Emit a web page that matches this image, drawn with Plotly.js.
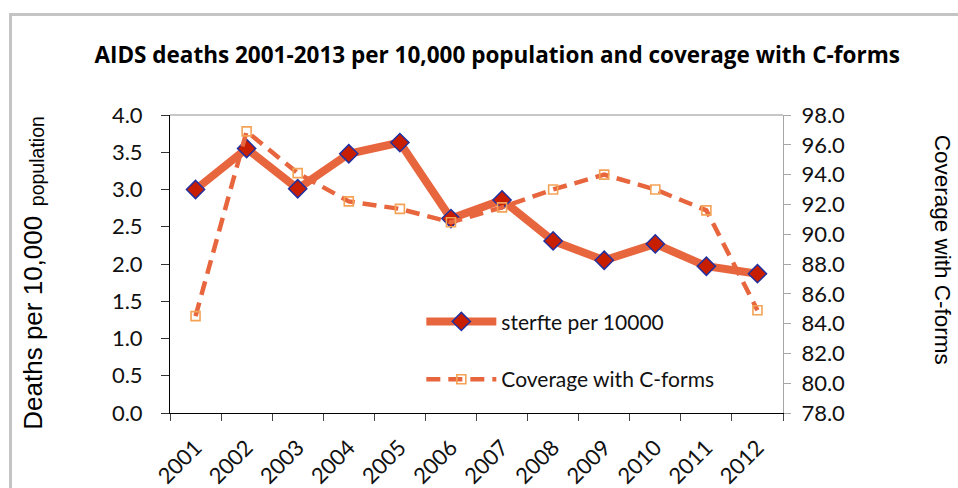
<!DOCTYPE html>
<html>
<head>
<meta charset="utf-8">
<script src="https://cdn.plot.ly/plotly-3.0.1.min.js"></script>
<style>
  html, body { margin: 0; padding: 0; background: #fff; overflow: hidden; }
  #frame {
    position: absolute; left: 9px; top: 13px; width: 1200px; height: 800px;
    border-left: 3px solid #c4c4c4; border-top: 3px solid #c4c4c4;
  }
  #chart { position: absolute; left: 0; top: 0; width: 958px; height: 488px; }
</style>
</head>
<body>
<div id="frame"></div>
<div id="chart"></div>
<script>
// Years on the category axis
const years = ['2001', '2002', '2003', '2004', '2005', '2006',
               '2007', '2008', '2009', '2010', '2011', '2012'];

// AIDS deaths per 10,000 population (left axis)
const deathsPer10000 = [3.00, 3.55, 3.01, 3.48, 3.63, 2.61,
                        2.86, 2.31, 2.05, 2.27, 1.97, 1.87];

// Coverage with C-forms, percent (right axis)
const coverageCForms = [84.5, 96.9, 94.1, 92.2, 91.7, 90.8,
                        91.8, 93.0, 94.0, 93.0, 91.6, 84.9];

const lineColor = '#E8663E';
const baseFont = 'Lato, "Open Sans", sans-serif';
const tickFont = { family: baseFont, size: 22, color: '#111' };
const legendFont = { family: baseFont, size: 21, color: '#111' };
const titleFont = '"Liberation Sans", Arial, sans-serif';

const traces = [
  {
    x: years, y: deathsPer10000, name: 'sterfte per 10000',
    type: 'scatter', mode: 'lines+markers', yaxis: 'y', legend: 'legend',
    line: { color: lineColor, width: 8 },
    marker: { symbol: 'diamond', size: 14, color: '#C81E00',
              line: { color: '#2230A0', width: 1.5 } }
  },
  {
    x: years, y: coverageCForms, name: 'Coverage with C-forms',
    type: 'scatter', mode: 'lines+markers', yaxis: 'y2', legend: 'legend2',
    line: { color: lineColor, width: 4.5, dash: '14px,8px' },
    marker: { symbol: 'square-open', size: 9, color: '#F4A255',
              line: { color: '#F4A255', width: 1.6 } }
  }
];

const layout = {
  width: 958, height: 488,
  margin: { l: 170, r: 175, t: 115, b: 75 },
  paper_bgcolor: 'rgba(0,0,0,0)', plot_bgcolor: 'rgba(0,0,0,0)',
  showlegend: true,
  title: {
    text: 'AIDS deaths 2001-2013 per 10,000 population and coverage with C-forms',
    font: { family: '"Open Sans", Lato, sans-serif', size: 22.5, color: '#000', weight: 'bold' },
    xref: 'container', x: 0.519, xanchor: 'center',
    yref: 'container', y: 0.887, yanchor: 'middle'
  },
  xaxis: {
    type: 'category', range: [-0.5, 11.5],
    tickson: 'boundaries', ticks: 'outside', ticklen: 7, tickcolor: '#444', tickwidth: 1,
    showline: true, linecolor: '#000', linewidth: 1,
    showgrid: false, zeroline: false,
    tickangle: -45, tickfont: tickFont, ticklabelstandoff: 12
  },
  yaxis: {
    range: [0, 4], dtick: 0.5, tick0: 0, tickformat: '.1f',
    ticks: 'outside', ticklen: 8, tickcolor: '#333', tickwidth: 1,
    showline: true, linecolor: '#000', linewidth: 1,
    showgrid: false, zeroline: false,
    tickfont: tickFont, ticklabelstandoff: 14
  },
  yaxis2: {
    overlaying: 'y', side: 'right',
    range: [78, 98], dtick: 2, tick0: 78, tickformat: '.1f',
    ticks: 'outside', ticklen: 7, tickcolor: '#a6a6a6', tickwidth: 1,
    showline: true, linecolor: '#a6a6a6', linewidth: 1,
    showgrid: false, zeroline: false,
    tickfont: tickFont, ticklabelstandoff: 6
  },
  legend: {
    x: 0.41, y: 0.306, xanchor: 'left', yanchor: 'middle',
    bgcolor: 'rgba(0,0,0,0)', borderwidth: 0, itemwidth: 70,
    font: legendFont
  },
  legend2: {
    x: 0.41, y: 0.112, xanchor: 'left', yanchor: 'middle',
    bgcolor: 'rgba(0,0,0,0)', borderwidth: 0, itemwidth: 70,
    font: legendFont
  },
  shapes: [
    // light border along the top of the plot area
    { type: 'line', xref: 'paper', yref: 'paper', x0: 0, x1: 1, y0: 1, y1: 1,
      line: { color: '#b4b4b4', width: 1.5 } }
  ],
  annotations: [
    // left axis title, drawn in two sizes
    {
      text: 'Deaths per 10,000',
      xref: 'paper', yref: 'paper', x: -0.2235, y: 0.303,
      xanchor: 'center', yanchor: 'middle', textangle: -90, showarrow: false,
      font: { family: titleFont, size: 26, color: '#000' }
    },
    {
      text: 'population',
      xref: 'paper', yref: 'paper', x: -0.2165, y: 0.846,
      xanchor: 'center', yanchor: 'middle', textangle: -90, showarrow: false,
      font: { family: titleFont, size: 19.5, color: '#000' }
    },
    {
      text: 'Coverage with C-forms',
      xref: 'paper', yref: 'paper', x: 1.2594, y: 0.548,
      xanchor: 'center', yanchor: 'middle', textangle: 90, showarrow: false,
      font: { family: titleFont, size: 22.5, color: '#000' }
    }
  ]
};

Plotly.newPlot('chart', traces, layout, { displayModeBar: false, staticPlot: true });
</script>
</body>
</html>
